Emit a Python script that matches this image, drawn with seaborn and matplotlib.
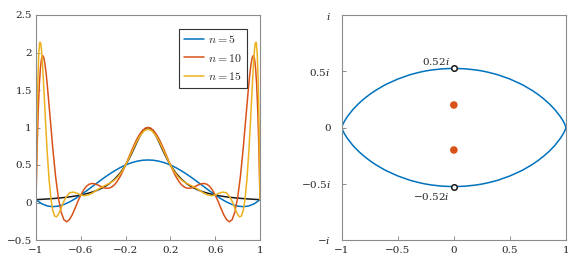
import numpy as np
import pandas as pd
import seaborn as sns
import matplotlib.pyplot as plt

# ---- data (right half, x >= 0; curves are even) ----
x_f = [0, .025, .05, .075, .1, .125, .15, .175, .2, .25, .3, .35, .4, .45, .5,
       .55, .6, .65, .7, .75, .8, .85, .9, .95, 1]
y_f = [1.0, 0.985, 0.941, 0.877, 0.800, 0.719, 0.640, 0.566, 0.500, 0.390, 0.308,
       0.246, 0.200, 0.165, 0.138, 0.117, 0.100, 0.086, 0.075, 0.066, 0.059,
       0.052, 0.047, 0.042, 0.038]

x_n5 = [0, .05, .1, .15, .2, .25, .3, .35, .4, .45, .5, .55, .6, .65, .7, .75,
        .8, .85, .9, .95, 1]
y_n5 = [0.567, 0.563, 0.550, 0.529, 0.500, 0.464, 0.421, 0.373, 0.321, 0.266,
        0.210, 0.154, 0.100, 0.051, 0.008, -0.026, -0.048, -0.056, -0.046,
        -0.016, 0.038]

x_n10 = [0, .025, .05, .075, .1, .125, .15, .175, .2, .225, .25, .275, .3, .325,
         .35, .375, .4, .425, .45, .475, .5, .525, .55, .575, .6, .625, .65,
         .675, .7, .725, .75, .775, .8, .825, .85, .875, .9, .91, .92, .93, .94,
         .95, .96, .97, .98, .99, 1]
y_n10 = [1.000, 0.990, 0.959, 0.909, 0.843, 0.765, 0.679, 0.589, 0.500, 0.417,
         0.343, 0.282, 0.235, 0.205, 0.191, 0.190, 0.200, 0.217, 0.235, 0.249,
         0.254, 0.244, 0.216, 0.167, 0.100, 0.018, -0.073, -0.159, -0.226,
         -0.257, -0.232, -0.131, 0.059, 0.345, 0.720, 1.152, 1.579, 1.726,
         1.846, 1.928, 1.959, 1.924, 1.804, 1.581, 1.230, 0.726, 0.038]

x_n15 = [0, .0333, .0667, .1, .1333, .1667, .2, .2333, .2667, .3, .3333, .3667,
         .4, .4333, .4667, .5, .5333, .5667, .6, .6333, .6667, .7, .7333, .75,
         .7667, .7833, .8, .8167, .8333, .85, .8667, .8833, .9, .9125, .925,
         .9333, .9417, .95, .9583, .9667, .975, .9833, .9917, 1]
y_n15 = [0.976, 0.957, 0.900, 0.814, 0.711, 0.602, 0.500, 0.413, 0.346, 0.298,
         0.265, 0.239, 0.215, 0.187, 0.155, 0.124, 0.100, 0.091, 0.100, 0.122,
         0.139, 0.129, 0.069, 0.019, -0.041, -0.104, -0.159, -0.191, -0.181,
         -0.108, 0.051, 0.310, 0.676, 1.010, 1.374, 1.615, 1.837, 2.018, 2.130,
         2.136, 1.993, 1.643, 1.016, 0.038]

# level curve in the complex plane (upper half, x >= 0)
x_lens = [0, .1, .2, .25, .3, .375, .4, .5, .6, .625, .7, .75, .8, .85, .9,
          .95, .975, .99, 1]
y_lens = [0.5255, 0.5217, 0.511, 0.5028, 0.4926, 0.4735, 0.466, 0.4307, 0.3855,
          0.3724, 0.3283, 0.2943, 0.2557, 0.2115, 0.16, 0.0963, 0.0566, 0.0273, 0.0]
poles_im = [0.2, -0.2]
marked_im = [0.5255, -0.5255]

labels = ['$n=5$', '$n=10$', '$n=15$']
colors = ['#0072BD', '#D95319', '#EDB120']


def mirror(x, y):
    x = np.asarray(x, float)
    y = np.asarray(y, float)
    return np.concatenate([-x[:0:-1], x]), np.concatenate([y[:0:-1], y])


sns.set_theme(style="white")
plt.rcParams['font.family'] = ['DejaVu Serif']
plt.rcParams['mathtext.fontset'] = 'dejavuserif'

fig = plt.figure(figsize=(5.76, 2.63), dpi=100)
ax1 = fig.add_axes([36 / 576, 23 / 263, 224 / 576, 225 / 263])
ax2 = fig.add_axes([341.7 / 576, 23 / 263, 224.3 / 576, 225 / 263])

lw = 1.1
xx, yy = mirror(x_f, y_f)
sns.lineplot(x=xx, y=yy, ax=ax1, color='k', lw=lw, sort=False, estimator=None)
handles = []
for (xs, ys), c, lab in zip([(x_n5, y_n5), (x_n10, y_n10), (x_n15, y_n15)], colors, labels):
    xx, yy = mirror(xs, ys)
    sns.lineplot(x=xx, y=yy, ax=ax1, color=c, lw=lw, sort=False, estimator=None)
    handles.append(ax1.lines[-1])

ax1.set_xlim(-1, 1)
ax1.set_ylim(-0.5, 2.5)
ax1.set_xticks([-1, -0.6, -0.2, 0.2, 0.6, 1])
ax1.set_xticklabels(['\u22121', '\u22120.6', '\u22120.2', '0.2', '0.6', '1'])
ax1.set_yticks([-0.5, 0, 0.5, 1, 1.5, 2, 2.5])
ax1.set_yticklabels(['\u22120.5', '0', '0.5', '1', '1.5', '2', '2.5'])
leg = ax1.legend(handles, labels, loc='upper right', bbox_to_anchor=(0.942, 0.94),
                 borderaxespad=0, fancybox=False, framealpha=1,
                 prop={'size': 8.5, 'math_fontfamily': 'cm'},
                 edgecolor='#333333', handlelength=1.75, handletextpad=0.35,
                 borderpad=0.4, labelspacing=0.45)
leg.get_frame().set_linewidth(0.8)

# right panel
ux, uy = mirror(x_lens, y_lens)
sns.lineplot(x=ux, y=uy, ax=ax2, color=colors[0], lw=lw, sort=False, estimator=None)
sns.lineplot(x=ux, y=-uy, ax=ax2, color=colors[0], lw=lw, sort=False, estimator=None)
sns.scatterplot(x=[0, 0], y=poles_im, ax=ax2, color=colors[1], s=30, edgecolor='none', zorder=5)
sns.scatterplot(x=[0, 0], y=marked_im, ax=ax2, facecolor='white', edgecolor='k',
                s=16, linewidth=1.1, zorder=6)
ax2.text(-0.035, 0.555, '0.52$i$', ha='right', va='baseline', fontsize=7.5, color='#262626')
ax2.text(-0.035, -0.56, '\u22120.52$i$', ha='right', va='top', fontsize=7.5, color='#262626')
ax2.set_xlim(-1, 1)
ax2.set_ylim(-1, 1)
ax2.set_xticks([-1, -0.5, 0, 0.5, 1])
ax2.set_xticklabels(['\u22121', '\u22120.5', '0', '0.5', '1'])
ax2.set_yticks([-1, -0.5, 0, 0.5, 1])
ax2.set_yticklabels(['\u2212$i$', '\u22120.5$i$', '0', '0.5$i$', '$i$'])

for ax in (ax1, ax2):
    for sp in ax.spines.values():
        sp.set_color('#8c8c8c')
        sp.set_linewidth(0.8)
    ax.tick_params(direction='in', length=3, width=0.7, color='#8c8c8c',
                   labelsize=7.5, labelcolor='#262626', pad=4,
                   left=True, bottom=True)
    ax.set_xlabel('')
    ax.set_ylabel('')
ax1.tick_params(axis='y', pad=3)
ax2.tick_params(axis='y', pad=8)

fig.savefig('out.png', dpi=100)
